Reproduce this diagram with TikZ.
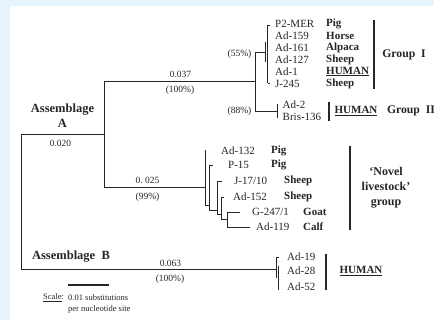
\documentclass[tikz,border=0pt]{standalone}
\usepackage{fontspec}
\setmainfont{Liberation Serif}
\definecolor{bgblue}{HTML}{E6F4FD}
\definecolor{ink}{HTML}{262626}
\begin{document}
\begin{tikzpicture}[x=1pt,y=-1pt,
  br/.style={draw=ink, line width=0.7pt},
  bar/.style={draw=ink, line width=2.4pt},
  taxon/.style={anchor=west, inner sep=0pt, font=\fontsize{11}{11}\selectfont, text=ink},
  host/.style={anchor=west, inner sep=0pt, font=\fontsize{11}{11}\selectfont\bfseries, text=ink},
  blen/.style={inner sep=0pt, font=\fontsize{9.5}{9.5}\selectfont, text=ink},
  grp/.style={inner sep=0pt, font=\fontsize{11.7}{15}\selectfont\bfseries, text=ink, align=center},
  asm/.style={inner sep=0pt, font=\fontsize{12.5}{15}\selectfont\bfseries, text=ink, align=center},
  small/.style={anchor=west, inner sep=0pt, font=\fontsize{8.5}{8.5}\selectfont, text=ink},
]
\fill[bgblue] (0,0) rectangle (434,320);
\fill[white] (10,6) rectangle (434,320);
\useasboundingbox (0,0) rectangle (434,320);

% ---------- coordinates ----------
\coordinate (root) at (21,134);
\coordinate (rootB) at (21,269);
\coordinate (A) at (104,134);
\coordinate (A1) at (104,81);
\coordinate (A2) at (104,187);
\coordinate (G) at (255,81);
\coordinate (G1) at (255,52);
\coordinate (G2) at (255,111);
\coordinate (gI) at (265,52);
\coordinate (gIt) at (265,42);
\coordinate (gIb) at (265,62);
\coordinate (gOt) at (267.5,25);
\coordinate (gOb) at (267.5,83);
\coordinate (gOtt) at (270,25);
\coordinate (gObt) at (270,83);
\coordinate (gII) at (277,111);
\coordinate (gIIt) at (277,104);
\coordinate (gIIb) at (277,118);
% novel livestock
\coordinate (N1) at (205,187);
\coordinate (N1t) at (205,150);
\coordinate (N1b) at (205,205);
\coordinate (N2t) at (209,165);
\coordinate (N2j) at (209,205);
\coordinate (N2b) at (209,210);
\coordinate (N3t) at (217,181);
\coordinate (N3j) at (217,210);
\coordinate (N3b) at (217,214);
\coordinate (N4t) at (221,197);
\coordinate (N4j) at (221,214);
\coordinate (N4b) at (221,219);
\coordinate (N5t) at (227,212);
\coordinate (N5j) at (227,219);
\coordinate (N5b) at (227,227);
\coordinate (tP15) at (213,165);
\coordinate (tJ17) at (222,181);
\coordinate (tA152) at (223.5,197);
\coordinate (tG247) at (240,212);
\coordinate (tA119) at (250,227);
% assemblage B
\coordinate (B) at (277,269);
\coordinate (Bt) at (276,257);
\coordinate (Bb) at (276,278);
\coordinate (Btt) at (279,257);
\coordinate (Bit) at (278.5,266);
\coordinate (Bib) at (278.5,290);

% ---------- branches ----------
\draw[br] (root) -- (rootB);
\draw[br] (root) -- (A);
\draw[br] (A1) -- (A2);
\draw[br] (A1) -- (G);
\draw[br] (G1) -- (G2);
\draw[br] (G1) -- (gI);
\draw[br] (gIt) -- (gIb);
\draw[br] (gOt) -- (gOb);
\draw[br] (gOt) -- (gOtt);
\draw[br] (gOb) -- (gObt);
\draw[br] (G2) -- (gII);
\draw[br] (gIIt) -- (gIIb);
\draw[br] (A2) -- (N1);
\draw[br] (N1t) -- (N1b);
\draw[br] (N1b) -- (N2j);
\draw[br] (N2t) -- (N2b);
\draw[br] (N2t) -- (tP15);
\draw[br] (N2b) -- (N3j);
\draw[br] (N3t) -- (N3b);
\draw[br] (N3t) -- (tJ17);
\draw[br] (N3b) -- (N4j);
\draw[br] (N4t) -- (N4b);
\draw[br] (N4t) -- (tA152);
\draw[br] (N4b) -- (N5j);
\draw[br] (N5t) -- (N5b);
\draw[br] (N5t) -- (tG247);
\draw[br] (N5b) -- (tA119);
\draw[br] (rootB) -- (B);
\draw[br] (Bt) -- (Bb);
\draw[br] (Bt) -- (Btt);
\draw[br] (Bit) -- (Bib);

% ---------- branch labels ----------
\node[asm] (asmA) at (62.5,116) {Assemblage\\A};
\node[blen] (lA) at (60.5,143) {0.020};
\node[blen] (l037) at (180.5,74) {0.037};
\node[blen] (b100a) at (180,90) {(100\%)};
\node[blen] (b55) at (239.5,54) {(55\%)};
\node[blen] (b88) at (239.5,111) {(88\%)};
\node[blen] (l025) at (147.5,180) {0.\ 025};
\node[blen] (b99) at (147.5,197) {(99\%)};
\node[asm] (asmB) at (71,257) {Assemblage\ \ B};
\node[blen] (l063) at (170.5,263) {0.063};
\node[blen] (b100b) at (170,279) {(100\%)};

% ---------- Group I ----------
\node[taxon] (t1) at (275,24) {P2-MER};
\node[taxon] (t2) at (275,36) {Ad-159};
\node[taxon] (t3) at (275,47.5) {Ad-161};
\node[taxon] (t4) at (275,59.5) {Ad-127};
\node[taxon] (t5) at (275,71.5) {Ad-1};
\node[taxon] (t6) at (275,84) {J-245};
\node[host] (h1) at (326,24) {Pig};
\node[host] (h2) at (326,36) {Horse};
\node[host] (h3) at (326,47.5) {Alpaca};
\node[host] (h4) at (326,59.5) {Sheep};
\node[host] (h5) at (326,71.5) {\underline{HUMAN}};
\node[host] (h6) at (326,84) {Sheep};
\coordinate (barIt) at (374,20);
\coordinate (barIb) at (374,89);
\draw[bar] (barIt) -- (barIb);
\node[grp] (gI) at (404,55) {Group\ \ I};

% ---------- Group II ----------
\node[taxon] (t7) at (282.5,105) {Ad-2};
\node[taxon] (t8) at (282.5,117) {Bris-136};
\coordinate (barIIt) at (329,102);
\coordinate (barIIb) at (329,121);
\draw[bar] (barIIt) -- (barIIb);
\node[host, anchor=center] (h7) at (356,111) {\underline{HUMAN}};
\node[grp] (gII) at (411,111) {Group\ \ II};

% ---------- Novel livestock ----------
\node[taxon] (t9) at (221,151) {Ad-132};
\node[taxon] (t10) at (228,165) {P-15};
\node[taxon] (t11) at (234,181) {J-17/10};
\node[taxon] (t12) at (233,197) {Ad-152};
\node[taxon] (t13) at (252,212) {G-247/1};
\node[taxon] (t14) at (256,227) {Ad-119};
\node[host] (h9) at (271,151) {Pig};
\node[host] (h10) at (271,165) {Pig};
\node[host] (h11) at (284,181) {Sheep};
\node[host] (h12) at (284,197) {Sheep};
\node[host] (h13) at (303,212) {Goat};
\node[host] (h14) at (303,227) {Calf};
\coordinate (barNt) at (350,146);
\coordinate (barNb) at (350,230);
\draw[bar] (barNt) -- (barNb);
\node[grp, font=\fontsize{12}{15}\selectfont\bfseries] (gN) at (386,188) {‘Novel\\livestock’\\group};

% ---------- Assemblage B ----------
\node[taxon] (t15) at (287,257) {Ad-19};
\node[taxon] (t16) at (287,271) {Ad-28};
\node[taxon] (t17) at (287,287) {Ad-52};
\coordinate (barBt) at (326,254);
\coordinate (barBb) at (326,290);
\draw[bar] (barBt) -- (barBb);
\node[host, anchor=center] (h15) at (361,271) {\underline{HUMAN}};

% ---------- scale ----------
\coordinate (sb1) at (68,285);
\coordinate (sb2) at (109,285);
\draw[draw=ink, line width=2.2pt] (sb1) -- (sb2);
\node[small] (sc) at (43,297.5) {\underline{Scale}:};
\node[small] (sc1) at (68,297.5) {0.01 substitutions};
\node[small] (sc2) at (68,309) {per nucleotide site};
\end{tikzpicture}
\end{document}
